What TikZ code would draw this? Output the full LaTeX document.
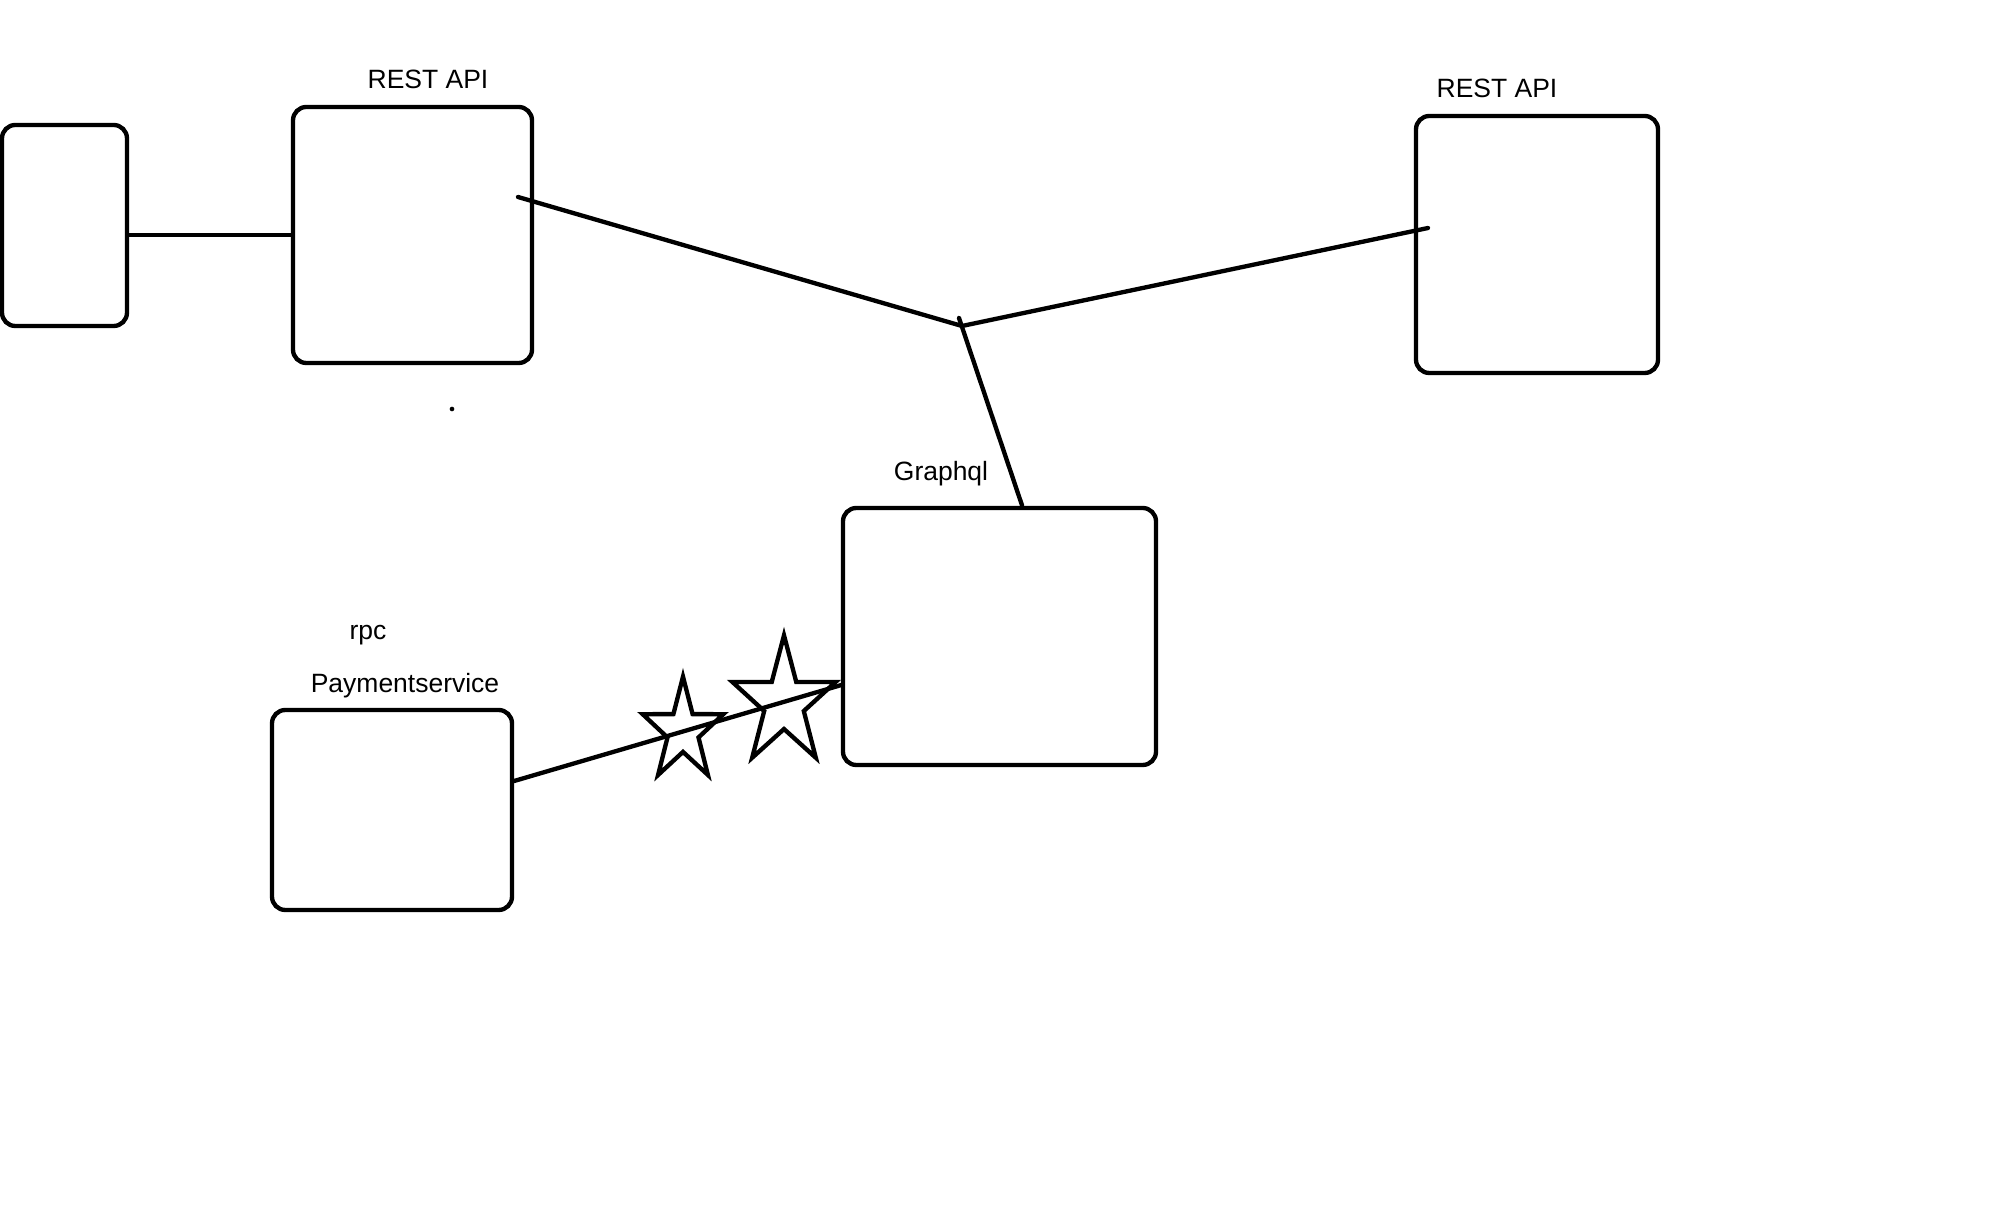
\documentclass[tikz,border=0pt]{standalone}
\usepackage{fontspec}
\setmainfont{Liberation Sans}
\usetikzlibrary{positioning}
\usetikzlibrary{shapes.geometric}

\tikzset{
  box/.style={draw, rounded corners=0.2cm, line width=0.065cm, inner sep=0pt},
  lbl/.style={anchor=base, inner sep=0pt, font=\fontsize{11.3}{13}\selectfont},
  link/.style={line width=0.065cm, line cap=round},
  starmark/.style={draw, star, star points=5, star point ratio=2.6, line width=0.065cm, inner sep=0pt},
}

\begin{document}
\begin{tikzpicture}[x=0.015cm, y=-0.015cm]

  \path[use as bounding box, fill=white] (0,0) rectangle (1992,1227);

  % Define nodes
  \node[box, minimum width=1.875cm, minimum height=3.015cm] (client) at (64.5,225.5) {};
  \node[box, minimum width=3.585cm, minimum height=3.84cm] (rest1) at (412.5,235) {};
  \node[box, minimum width=3.63cm, minimum height=3.855cm] (rest2) at (1537,244.5) {};
  \node[box, minimum width=4.695cm, minimum height=3.855cm] (graphql) at (999.5,636.5) {};
  \node[box, minimum width=3.6cm, minimum height=3.0cm] (payment) at (392,810) {};

  % Labels
  \node[lbl] (rest1lbl) at (428,89) {REST API};
  \node[lbl] (rest2lbl) at (1497,98) {REST API};
  \node[lbl] (graphqllbl) at (941,481) {Graphql};
  \node[lbl] (rpclbl) at (368,640) {rpc};
  \node[lbl] (paymentlbl) at (405,693) {Paymentservice};

  \node[circle, fill, inner sep=0pt, minimum size=0.07cm] (dot) at (452,409) {};

  % Stars
  \node[starmark, xscale=0.78, minimum size=1.63cm] (star1) at (683,731) {};
  \node[starmark, xscale=0.8, minimum size=2.03cm] (star2) at (784,703) {};

  % Junction points
  \coordinate (hub) at (962,326);
  \coordinate (tick) at (959,318);
  \coordinate (tapA) at (518,197);
  \coordinate (tapB) at (1428,228);

  % Connect nodes
  \draw[link] (client.east |- rest1.west) -- (rest1.west);
  \draw[link] (tapA) -- (hub) -- (tapB);
  \draw[link] (tick) -- ([xshift=0.34cm]graphql.north);
  \draw[link] ([yshift=0.435cm]payment.east) -- ([yshift=-0.73cm]graphql.west);

\end{tikzpicture}
\end{document}
